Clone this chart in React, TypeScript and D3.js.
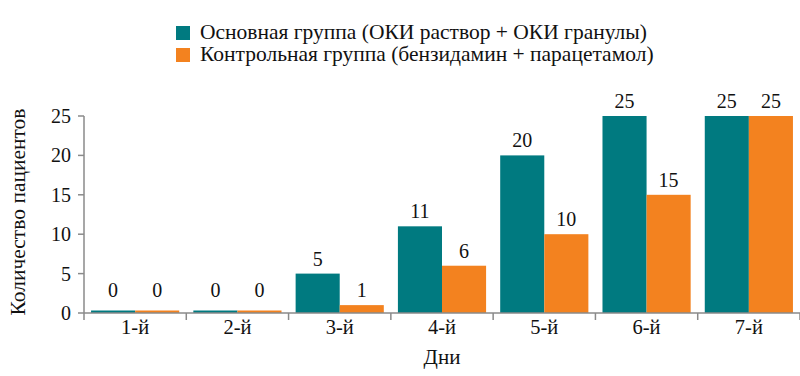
import React from "react";
import * as d3 from "d3";

const days = ["1-й", "2-й", "3-й", "4-й", "5-й", "6-й", "7-й"];
const mainGroup = [0, 0, 5, 11, 20, 25, 25];
const controlGroup = [0, 0, 1, 6, 10, 15, 25];
const seriesNames = [
  "Основная группа (ОКИ раствор + ОКИ гранулы)",
  "Контрольная группа (бензидамин + парацетамол)",
];
const seriesColors = ["#007a80", "#f3821f"];
const yTicks = [0, 5, 10, 15, 20, 25];

const W = 800;
const H = 376;
const font = "Liberation Serif, DejaVu Serif, serif";

export default function App() {
  const x0 = d3.scaleBand<string>().domain(days).range([84, 800]).padding(0);
  const x1 = d3
    .scaleBand<string>()
    .domain(["a", "b"])
    .range([0, x0.bandwidth()])
    .paddingInner(0)
    .paddingOuter(0.16);
  const y = d3.scaleLinear().domain([0, 25]).range([313, 116]);
  const series = [mainGroup, controlGroup];
  const keys = ["a", "b"];
  const axisColor = "#8a8a8a";

  return (
    <svg
      width={W}
      height={H}
      style={{ position: "absolute", left: 0, top: 0, background: "#fff", fontFamily: font }}
    >
      {/* legend */}
      {seriesNames.map((name, i) => (
        <g key={name} transform={`translate(176, ${26 + i * 22})`}>
          <rect width={14} height={14} fill={seriesColors[i]} />
          <text x={24} y={12.5} fontSize={21.5} fill="#111">
            {name}
          </text>
        </g>
      ))}

      {/* bars */}
      {days.map((d, di) => (
        <g key={d} transform={`translate(${x0(d)},0)`}>
          {series.map((s, si) => {
            const v = s[di];
            const top = y(v);
            const h = Math.max(2.5, y(0) - top);
            const bx = x1(keys[si])!;
            return (
              <g key={si}>
                <rect
                  x={bx}
                  y={y(0) - h}
                  width={x1.bandwidth()}
                  height={h}
                  fill={seriesColors[si]}
                />
                <text
                  x={bx + x1.bandwidth() / 2}
                  y={Math.min(top, y(0) - 8) - 8}
                  textAnchor="middle"
                  fontSize={20}
                  fill="#111"
                >
                  {v}
                </text>
              </g>
            );
          })}
        </g>
      ))}

      {/* y axis */}
      <line x1={84} x2={84} y1={116} y2={320} stroke={axisColor} strokeWidth={1.5} />
      {yTicks.map((t) => (
        <g key={t}>
          <line x1={78} x2={84} y1={y(t)} y2={y(t)} stroke={axisColor} strokeWidth={1.5} />
          <text x={71} y={y(t) + 7} textAnchor="end" fontSize={20} fill="#111">
            {t}
          </text>
        </g>
      ))}

      {/* x axis */}
      <line x1={84} x2={800} y1={313} y2={313} stroke={axisColor} strokeWidth={1.5} />
      {days.map((d) => (
        <g key={d}>
          <line
            x1={x0(d)! + x0.bandwidth()}
            x2={x0(d)! + x0.bandwidth()}
            y1={313}
            y2={320}
            stroke={axisColor}
            strokeWidth={1.5}
          />
          <text
            x={x0(d)! + x0.bandwidth() / 2}
            y={334}
            textAnchor="middle"
            fontSize={20.5}
            fill="#111"
          >
            {d}
          </text>
        </g>
      ))}

      {/* axis titles */}
      <text x={442} y={364} textAnchor="middle" fontSize={21} fill="#111">
        Дни
      </text>
      <text
        transform={`translate(25, 212) rotate(-90)`}
        textAnchor="middle"
        fontSize={21.5}
        fill="#111"
      >
        Количество пациентов
      </text>
    </svg>
  );
}
